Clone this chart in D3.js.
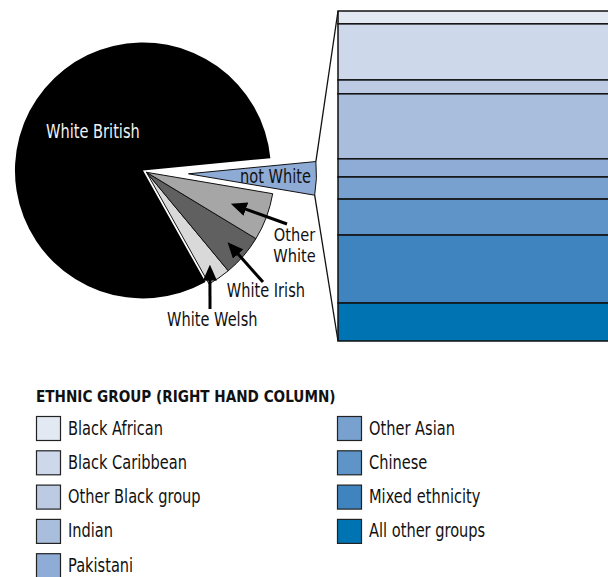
<!DOCTYPE html>
<html><head><meta charset="utf-8">
<script src="https://cdn.jsdelivr.net/npm/d3@7"></script>
<style>
body{margin:0;background:#fff}
svg{display:block}
text{font-family:"DejaVu Sans",sans-serif}
</style>
</head><body><svg id="c" width="608" height="577"></svg>
<script>
// ---- data ----
const pieLabels = ["not White", "Other White", "White Irish", "White Welsh", "White British"];
const pieValues = [4.2, 6.0, 5.3, 2.9, 81.6];
const pieColors = ["#8eabd6", "#a6a6a6", "#606060", "#d9d9d9", "#000000"];

const groupLabels = ["Black African", "Black Caribbean", "Other Black group", "Indian", "Pakistani",
                     "Other Asian", "Chinese", "Mixed ethnicity", "All other groups"];
const groupValues = [3.9, 17.0, 4.2, 19.7, 5.5, 6.7, 10.9, 20.6, 11.5];
const groupColors = ["#e2e9f3", "#cdd8ea", "#bccae4", "#a9bddd", "#8eacd5",
                     "#78a1cf", "#5f94c8", "#3f84bf", "#0073b2"];
const legendTitle = "ETHNIC GROUP (RIGHT HAND COLUMN)";

// ---- layout ----
const svg = d3.select("#c");
const C = {x: 146.5, y: 172.3};
const R = 128;
const rad = d => d * Math.PI / 180;
const startDeg = 84.5; // d3 angle (0 = 12 o'clock)
const SX = 0.73; // condensed look

function txt(g, x, y, s, size, opts = {}) {
  const t = g.append("text")
    .attr("transform", `translate(${x},${y}) scale(${opts.sx || SX},1)`)
    .attr("font-size", size)
    .attr("font-weight", opts.bold ? "bold" : null)
    .attr("text-anchor", opts.anchor || "start")
    .attr("fill", opts.fill || "#111");
  const lines = Array.isArray(s) ? s : [s];
  lines.forEach((ln, k) => t.append("tspan").attr("x", 0).attr("dy", k === 0 ? 0 : (opts.lh || 20)).text(ln));
  return t;
}

const pie = d3.pie().sort(null).value(d => d)
  .startAngle(rad(startDeg)).endAngle(rad(startDeg + 360));
const arcs = pie(pieValues);
const arc = d3.arc().innerRadius(0).outerRadius(R);
const explode = [42, 0, 0, 0, 4];

function offset(a, dist) {
  const m = (a.startAngle + a.endAngle) / 2;
  return [dist * Math.sin(m), -dist * Math.cos(m)];
}

const pieG = svg.append("g").attr("transform", `translate(${C.x},${C.y})`);
[4, 3, 2, 1, 0].forEach(i => {
  const a = arcs[i];
  const [dx, dy] = offset(a, explode[i]);
  pieG.append("path")
    .attr("d", arc(a))
    .attr("transform", `translate(${dx},${dy})`)
    .attr("fill", pieColors[i])
    .attr("stroke", i === 4 ? "none" : "#111")
    .attr("stroke-width", 1)
    .attr("stroke-linejoin", "round");
});

// ---- column ----
const colX0 = 338, colX1 = 640;
const total = d3.sum(groupValues);
const y = d3.scaleLinear().domain([0, total]).range([11, 341]);
let cum = 0;
const stacked = groupValues.map((v, i) => { const s = {i, y0: cum, y1: cum + v}; cum += v; return s; });
svg.append("g").selectAll("rect").data(stacked).join("rect")
  .attr("x", colX0).attr("width", colX1 - colX0)
  .attr("y", d => y(d.y0)).attr("height", d => y(d.y1) - y(d.y0))
  .attr("fill", d => groupColors[d.i])
  .attr("stroke", "#111").attr("stroke-width", 1.5);

// ---- connector lines ----
const nw = arcs[0];
const [ndx, ndy] = offset(nw, explode[0]);
const cornerTop = [C.x + ndx + R * Math.sin(nw.startAngle), C.y + ndy - R * Math.cos(nw.startAngle)];
const cornerBot = [C.x + ndx + R * Math.sin(nw.endAngle), C.y + ndy - R * Math.cos(nw.endAngle)];
svg.append("line").attr("x1", cornerTop[0]).attr("y1", cornerTop[1]).attr("x2", colX0).attr("y2", y(0))
  .attr("stroke", "#111").attr("stroke-width", 1.3);
svg.append("line").attr("x1", cornerBot[0]).attr("y1", cornerBot[1]).attr("x2", colX0).attr("y2", y(total))
  .attr("stroke", "#111").attr("stroke-width", 1.3);

// ---- pie texts ----
const midOf = (i, r) => {
  const a = arcs[i]; const m = (a.startAngle + a.endAngle) / 2;
  const [dx, dy] = offset(a, explode[i]);
  return [C.x + dx + r * Math.sin(m), C.y + dy - r * Math.cos(m)];
};
txt(svg, 46, 137.5, pieLabels[4], 20, {fill: "#f2f2f2"});
txt(svg, 311, 182.5, pieLabels[0], 20, {anchor: "end"});

// arrows
const defs = svg.append("defs");
defs.append("marker").attr("id", "ah").attr("markerUnits", "userSpaceOnUse")
  .attr("markerWidth", 16).attr("markerHeight", 14).attr("refX", 9).attr("refY", 7)
  .attr("orient", "auto")
  .append("path").attr("d", "M0,0 L16,7 L0,14 Z").attr("fill", "#000");

const annos = [
  {i: 1, r: 90, tail: [287, 224]},
  {i: 2, r: 107, tail: [263, 282]},
  {i: 3, r: 112, tail: [210, 309]}
];
annos.forEach(a => {
  const tip = midOf(a.i, a.r);
  const dx = tip[0] - a.tail[0], dy = tip[1] - a.tail[1];
  const L = Math.hypot(dx, dy);
  const end = [tip[0] - dx / L * 7, tip[1] - dy / L * 7];
  svg.append("line").attr("x1", a.tail[0]).attr("y1", a.tail[1]).attr("x2", end[0]).attr("y2", end[1])
    .attr("stroke", "#000").attr("stroke-width", 3).attr("marker-end", "url(#ah)");
});
txt(svg, 294.5, 241.2, ["Other", "White"], 18, {anchor: "middle", lh: 21, sx: 0.81});
txt(svg, 226.7, 296.7, pieLabels[2], 20);
txt(svg, 167, 326, pieLabels[3], 20);

// ---- legend ----
txt(svg, 36, 402, legendTitle, 16.5, {bold: true, sx: 0.825});
const leg = svg.append("g");
groupLabels.forEach((lab, i) => {
  const col = i < 5 ? 0 : 1;
  const row = i < 5 ? i : i - 5;
  const x = col === 0 ? 36 : 337;
  const yy = 416 + row * 34.3;
  leg.append("rect").attr("x", x + 0.5).attr("y", yy + 0.5).attr("width", 24).attr("height", 24)
    .attr("fill", groupColors[i]).attr("stroke", "#222").attr("stroke-width", 1.2);
  txt(leg, x + 32, yy + 18.5, lab, 20);
});
</script>
</body></html>
